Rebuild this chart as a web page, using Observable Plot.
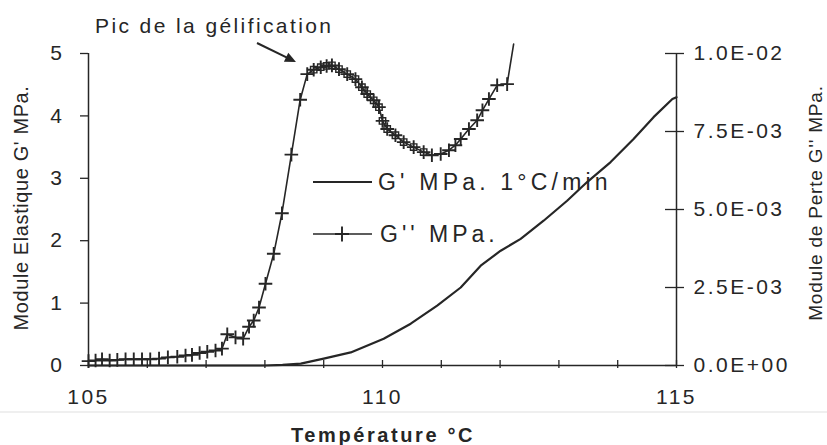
<!DOCTYPE html>
<html><head><meta charset="utf-8">
<script src="https://cdn.jsdelivr.net/npm/d3@7"></script>
<script src="https://cdn.jsdelivr.net/npm/@observablehq/plot@0.6"></script>
<style>
html,body{margin:0;padding:0;background:#fff;}
#chart svg{display:block;}
#chart svg text{letter-spacing:2.5px;}
</style></head><body><div id="chart"></div>
<script>
// G' (left axis, MPa), 1°C/min
const gpTemp = [105, 106, 107, 108, 108.30, 108.61, 109.00, 109.46, 110.02, 110.48, 110.93, 111.33, 111.67, 112.01, 112.35, 112.74, 113.14, 113.48, 113.88, 114.27, 114.61, 114.93, 115.00];
const gpVal  = [0, 0, 0, 0, 0.01, 0.03, 0.11, 0.21, 0.43, 0.67, 0.96, 1.25, 1.60, 1.84, 2.03, 2.32, 2.64, 2.94, 3.26, 3.63, 3.98, 4.27, 4.30];

// G'' (right axis, in 1E-03 MPa)
const gppTemp = [105.00,105.12,105.23,105.36,105.49,105.63,105.77,105.91,106.05,106.20,106.35,106.51,106.65,106.76,106.89,107.02,107.16,107.27,107.36,107.50,107.63,107.73,107.81,107.90,108.01,108.15,108.29,108.45,108.60,108.72,108.83,108.95,109.05,109.14,109.26,109.40,109.54,109.65,109.74,109.85,109.94,110.00,110.08,110.22,110.36,110.53,110.70,110.84,110.99,111.13,111.24,111.33,111.47,111.61,111.70,111.81,111.95,112.12,112.23];
const gppValE3 = [0.14,0.16,0.20,0.16,0.18,0.20,0.20,0.20,0.20,0.22,0.26,0.28,0.32,0.34,0.40,0.44,0.48,0.54,1.00,0.90,0.86,1.24,1.44,1.86,2.62,3.58,4.88,6.76,8.52,9.34,9.48,9.56,9.60,9.62,9.50,9.34,9.18,8.92,8.70,8.50,8.28,7.84,7.58,7.38,7.16,7.00,6.84,6.74,6.78,6.90,7.06,7.26,7.58,7.86,8.18,8.54,8.98,9.02,10.30];
// range of G'' readings that also carry an open square marker
const squareRange = [108.80, 110.72];

const leftTicks = [0, 1, 2, 3, 4, 5];
const rightTicks = [0, 0.0025, 0.005, 0.0075, 0.01];
const rightTickLabels = ["0.0E+00", "2.5E-03", "5.0E-03", "7.5E-03", "1.0E-02"];
const xMinorTicks = [105,106,107,108,109,110,111,112,113,114,115];
const xLabelTicks = [105, 110, 115];

const legendLabels = ["G' MPa. 1°C/min", "G'' MPa."];
const titleX = "Température °C";
const titleLeft = "Module Elastique G' MPa.";
const titleRight = "Module de Perte G'' MPa.";
const annotation = "Pic de la gélification";

// right axis (0..1E-02 MPa) shares the vertical extent of left axis (0..5 MPa)
const rightToLeft = 5 / 0.01;

const gp = gpTemp.map((t, i) => ({t, v: gpVal[i]}));
const gpp = gppTemp.map((t, i) => ({t, v: gppValE3[i] * 1e-3 * rightToLeft}));
const gppMarked = gpp.slice(0, -1);
const gppSquares = gpp.filter(d => d.t >= squareRange[0] && d.t <= squareRange[1]);

const ink = "#262626";
const font = '"Liberation Sans", Arial, sans-serif';

const crossSymbol = {
  draw(ctx, size) {
    const r = Math.sqrt(size / Math.PI);
    ctx.moveTo(-r, 0); ctx.lineTo(r, 0);
    ctx.moveTo(0, -r); ctx.lineTo(0, r);
  }
};

const plot = Plot.plot({
  width: 827, height: 445,
  marginLeft: 88, marginRight: 151, marginTop: 53, marginBottom: 80,
  style: {fontFamily: font, fontSize: "21px", color: ink, background: "#fff"},
  x: {domain: [105, 115], axis: null},
  y: {domain: [0, 5], axis: null},
  marks: [
    Plot.ruleX([105], {stroke: ink, strokeWidth: 1.5}),
    Plot.ruleX([115], {stroke: ink, strokeWidth: 1.5}),
    Plot.ruleY([0], {stroke: ink, strokeWidth: 1.5}),
    // left axis: outward ticks + labels
    Plot.axisY({anchor: "left", ticks: leftTicks, tickSize: 8, tickPadding: 16, stroke: ink, strokeWidth: 1.3, fill: ink, label: null, tickFormat: d => String(d)}),
    // right axis: crossing ticks (tick-only) and labels
    Plot.axisY({anchor: "right", ticks: rightTicks.map(v => v * rightToLeft), tickSize: 19, dx: -12, stroke: ink, strokeWidth: 1.3, fill: "none", label: null, tickFormat: () => ""}),
    Plot.axisY({anchor: "right", ticks: rightTicks.map(v => v * rightToLeft), tickSize: 0, tickPadding: 17, fill: ink, label: null,
      tickFormat: d => rightTickLabels[rightTicks.findIndex(v => Math.abs(v * rightToLeft - d) < 1e-9)]}),
    // x axis: crossing minor ticks, labels every 5
    Plot.axisX({anchor: "bottom", ticks: xMinorTicks, tickSize: 8, dy: -5, stroke: ink, strokeWidth: 1.3, fill: "none", label: null, tickFormat: () => ""}),
    Plot.axisX({anchor: "bottom", ticks: xLabelTicks, tickSize: 0, tickPadding: 24, fill: ink, label: null, tickFormat: d => String(d)}),
    Plot.line(gp, {x: "t", y: "v", stroke: ink, strokeWidth: 2.2}),
    Plot.line(gpp, {x: "t", y: "v", stroke: ink, strokeWidth: 1.6}),
    Plot.dot(gppSquares, {x: "t", y: "v", symbol: "square", r: 3.6, fill: "none", stroke: ink, strokeWidth: 1.4}),
    Plot.dot(gppMarked, {x: "t", y: "v", symbol: crossSymbol, r: 6.8, fill: "none", stroke: ink, strokeWidth: 1.9})
  ]
});

document.getElementById("chart").appendChild(plot);
const svg = d3.select(plot);

// scan separator band
svg.insert("rect", ":first-child").attr("x", 0).attr("y", 411).attr("width", 827).attr("height", 2).attr("fill", "#efefef");

// titles
svg.append("text").attr("x", 383).attr("y", 442).attr("text-anchor", "middle")
  .attr("font-weight", "bold").attr("font-size", 20).attr("fill", ink).style("letter-spacing", "2.6px").text(titleX);
svg.append("text").attr("transform", "translate(28,208) rotate(-90)").attr("text-anchor", "middle")
  .attr("font-size", 20).attr("fill", ink).style("letter-spacing", "0.6px").text(titleLeft);
svg.append("text").attr("transform", "translate(822,203) rotate(-90)").attr("text-anchor", "middle")
  .attr("font-size", 19).attr("fill", ink).style("letter-spacing", "0.8px").text(titleRight);

// annotation
svg.append("text").attr("x", 95).attr("y", 33).attr("text-anchor", "start").attr("font-size", 21).attr("fill", ink)
  .style("letter-spacing", "2.4px").text(annotation);
const ax0 = [257, 43], ax1 = [296, 62];
const ang = Math.atan2(ax1[1] - ax0[1], ax1[0] - ax0[0]);
const hl = 11, hw = 5;
svg.append("line").attr("x1", ax0[0]).attr("y1", ax0[1]).attr("x2", ax1[0] - Math.cos(ang) * 6).attr("y2", ax1[1] - Math.sin(ang) * 6)
  .attr("stroke", ink).attr("stroke-width", 2);
const bx = ax1[0] - Math.cos(ang) * hl, by = ax1[1] - Math.sin(ang) * hl;
svg.append("path").attr("d", `M${ax1[0]},${ax1[1]}L${bx - Math.sin(ang) * hw},${by + Math.cos(ang) * hw}L${bx + Math.sin(ang) * hw},${by - Math.cos(ang) * hw}Z`).attr("fill", ink);

// legend
const lg = svg.append("g").attr("font-size", 23).attr("fill", ink).attr("text-anchor", "start");
lg.append("line").attr("x1", 313).attr("x2", 372).attr("y1", 182).attr("y2", 182).attr("stroke", ink).attr("stroke-width", 2.2);
lg.append("text").attr("x", 378).attr("y", 190).style("letter-spacing", "4.2px").text(legendLabels[0]);
lg.append("line").attr("x1", 313).attr("x2", 372).attr("y1", 234).attr("y2", 234).attr("stroke", ink).attr("stroke-width", 1.6);
lg.append("path").attr("d", "M335,234H349M342,226.5V241.5").attr("stroke", ink).attr("stroke-width", 1.9);
lg.append("text").attr("x", 380).attr("y", 242).style("letter-spacing", "4px").text(legendLabels[1]);
</script></body></html>
